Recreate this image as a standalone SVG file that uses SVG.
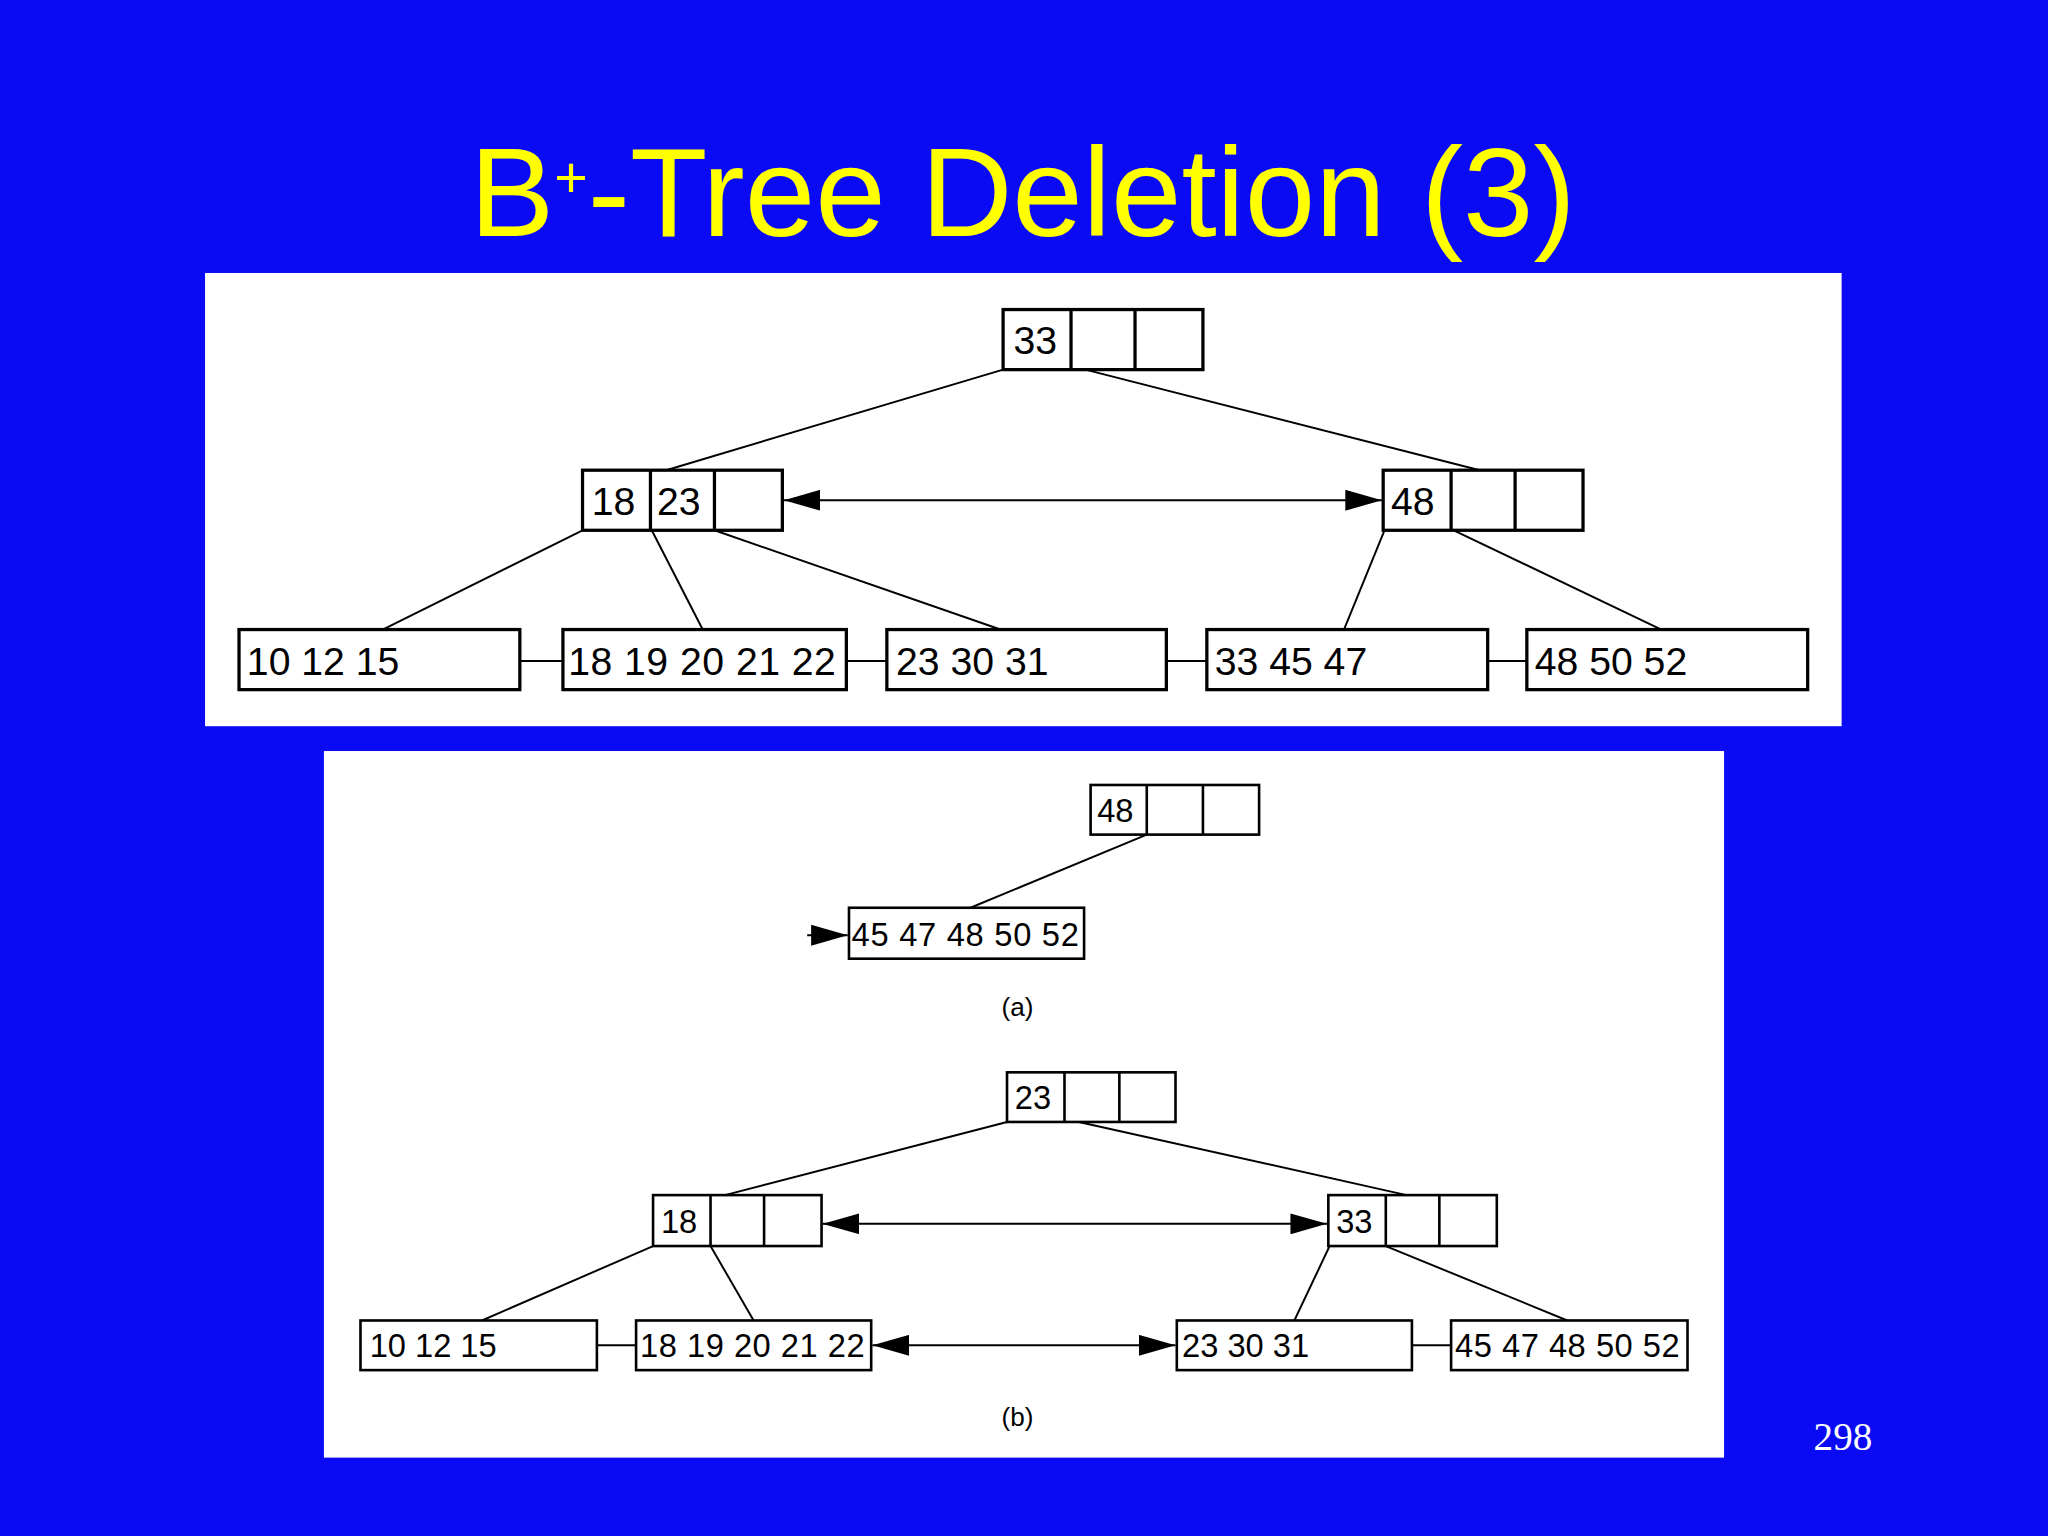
<svg xmlns="http://www.w3.org/2000/svg" width="2048" height="1536" viewBox="0 0 2048 1536">
<defs>
<marker id="ah2" viewBox="0 0 10 10" refX="10" refY="5" markerWidth="28" markerHeight="16" markerUnits="userSpaceOnUse" orient="auto-start-reverse" preserveAspectRatio="none"><path d="M0,0 L10,5 L0,10 z" fill="#000"/></marker>
</defs>
<style>
.n{fill:#fff;stroke:#000;stroke-width:2.5}
.d{stroke:#000;stroke-width:2.5}
.t{font-family:"Liberation Sans",Arial,sans-serif;fill:#000}
.big{font-size:30px}
.sm{font-size:25px}
.e{stroke:#000;stroke-width:1.5;fill:none}
.s{fill:#fff;stroke:#000;stroke-width:2}
</style>
<rect width="2048" height="1536" fill="#0a0af5"/>
<g transform="scale(1.30612)">
<text x="783" y="181" text-anchor="middle" font-family="Liberation Sans,Arial,sans-serif" font-size="97" fill="#ffff00">B<tspan font-size="44" dy="-30">+</tspan><tspan dy="30">-Tree Deletion (3)</tspan></text>
<rect x="157" y="209" width="1253" height="347" fill="#fff"/>
<rect x="248" y="575" width="1072" height="541" fill="#fff"/>
<g id="connectors">
<line class="e" x1="768" y1="283" x2="510" y2="360"/>
<line class="e" x1="831" y1="283" x2="1133" y2="360"/>
<line class="e" x1="600" y1="383" x2="1058" y2="383" marker-start="url(#ah2)" marker-end="url(#ah2)"/>
<line class="e" x1="446" y1="406" x2="293" y2="482"/>
<line class="e" x1="499" y1="406" x2="538" y2="482"/>
<line class="e" x1="547" y1="406" x2="766" y2="482"/>
<line class="e" x1="1060" y1="406" x2="1029" y2="482"/>
<line class="e" x1="1113" y1="406" x2="1272" y2="482"/>
<line class="e" x1="398" y1="506" x2="431" y2="506"/>
<line class="e" x1="648" y1="506" x2="679" y2="506"/>
<line class="e" x1="893" y1="506" x2="924" y2="506"/>
<line class="e" x1="1139" y1="506" x2="1169" y2="506"/>
<line class="e" x1="878" y1="639" x2="743" y2="695"/>
<line class="e" x1="618" y1="716" x2="649" y2="716" marker-end="url(#ah2)"/>
<line class="e" x1="771" y1="859" x2="555" y2="915"/>
<line class="e" x1="826" y1="859" x2="1077" y2="915"/>
<line class="e" x1="630" y1="937" x2="1016" y2="937" marker-start="url(#ah2)" marker-end="url(#ah2)"/>
<line class="e" x1="500" y1="954" x2="369" y2="1011"/>
<line class="e" x1="544" y1="954" x2="577" y2="1011"/>
<line class="e" x1="1018" y1="954" x2="991" y2="1011"/>
<line class="e" x1="1061" y1="954" x2="1200" y2="1011"/>
<line class="e" x1="457" y1="1030" x2="487" y2="1030"/>
<line class="e" x1="668" y1="1030" x2="900" y2="1030" marker-start="url(#ah2)" marker-end="url(#ah2)"/>
<line class="e" x1="1081" y1="1030" x2="1111" y2="1030"/>
</g>
<g id="root1"><rect class="n" x="768" y="237" width="153" height="46"/><line class="d" x1="820" y1="237" x2="820" y2="283"/><line class="d" x1="869" y1="237" x2="869" y2="283"/><text class="t big" x="776" y="271">33</text></g>
<g id="int1L"><rect class="n" x="446" y="360" width="153" height="46"/><line class="d" x1="498" y1="360" x2="498" y2="406"/><line class="d" x1="547" y1="360" x2="547" y2="406"/><text class="t big" x="453" y="394">18</text><text class="t big" x="503" y="394">23</text></g>
<g id="int1R"><rect class="n" x="1059" y="360" width="153" height="46"/><line class="d" x1="1111" y1="360" x2="1111" y2="406"/><line class="d" x1="1160" y1="360" x2="1160" y2="406"/><text class="t big" x="1065" y="394">48</text></g>
<g id="leaf1a"><rect class="n" x="183" y="482" width="215" height="46"/><text class="t big" x="189" y="517">10 12 15</text></g>
<g id="leaf1b"><rect class="n" x="431" y="482" width="217" height="46"/><text class="t big" x="435" y="517" textLength="205">18 19 20 21 22</text></g>
<g id="leaf1c"><rect class="n" x="679" y="482" width="214" height="46"/><text class="t big" x="686" y="517">23 30 31</text></g>
<g id="leaf1d"><rect class="n" x="924" y="482" width="215" height="46"/><text class="t big" x="930" y="517">33 45 47</text></g>
<g id="leaf1e"><rect class="n" x="1169" y="482" width="215" height="46"/><text class="t big" x="1175" y="517">48 50 52</text></g>
<g id="nodeA"><rect class="s" x="835" y="601" width="129" height="38"/><line class="s" x1="878" y1="601" x2="878" y2="639"/><line class="s" x1="921" y1="601" x2="921" y2="639"/><text class="t sm" x="840" y="629">48</text></g>
<g id="leafA"><rect class="s" x="650" y="695" width="180" height="39"/><text class="t sm" x="652" y="724" textLength="174">45 47 48 50 52</text></g>
<text class="t" x="779" y="778" font-size="20" text-anchor="middle">(a)</text>
<g id="root2"><rect class="s" x="771" y="821" width="129" height="38"/><line class="s" x1="815" y1="821" x2="815" y2="859"/><line class="s" x1="857" y1="821" x2="857" y2="859"/><text class="t sm" x="777" y="849">23</text></g>
<g id="int2L"><rect class="s" x="500" y="915" width="129" height="39"/><line class="s" x1="544" y1="915" x2="544" y2="954"/><line class="s" x1="585" y1="915" x2="585" y2="954"/><text class="t sm" x="506" y="944">18</text></g>
<g id="int2R"><rect class="s" x="1017" y="915" width="129" height="39"/><line class="s" x1="1061" y1="915" x2="1061" y2="954"/><line class="s" x1="1102" y1="915" x2="1102" y2="954"/><text class="t sm" x="1023" y="944">33</text></g>
<g id="leaf2a"><rect class="s" x="276" y="1011" width="181" height="38"/><text class="t sm" x="283" y="1039">10 12 15</text></g>
<g id="leaf2b"><rect class="s" x="487" y="1011" width="180" height="38"/><text class="t sm" x="490" y="1039" textLength="172">18 19 20 21 22</text></g>
<g id="leaf2c"><rect class="s" x="901" y="1011" width="180" height="38"/><text class="t sm" x="905" y="1039">23 30 31</text></g>
<g id="leaf2d"><rect class="s" x="1111" y="1011" width="181" height="38"/><text class="t sm" x="1114" y="1039" textLength="172">45 47 48 50 52</text></g>
<text class="t" x="779" y="1092" font-size="20" text-anchor="middle">(b)</text>
<text x="1411" y="1110" text-anchor="middle" font-family="Liberation Serif,serif" font-size="30" fill="#fff">298</text>
</g>
</svg>
